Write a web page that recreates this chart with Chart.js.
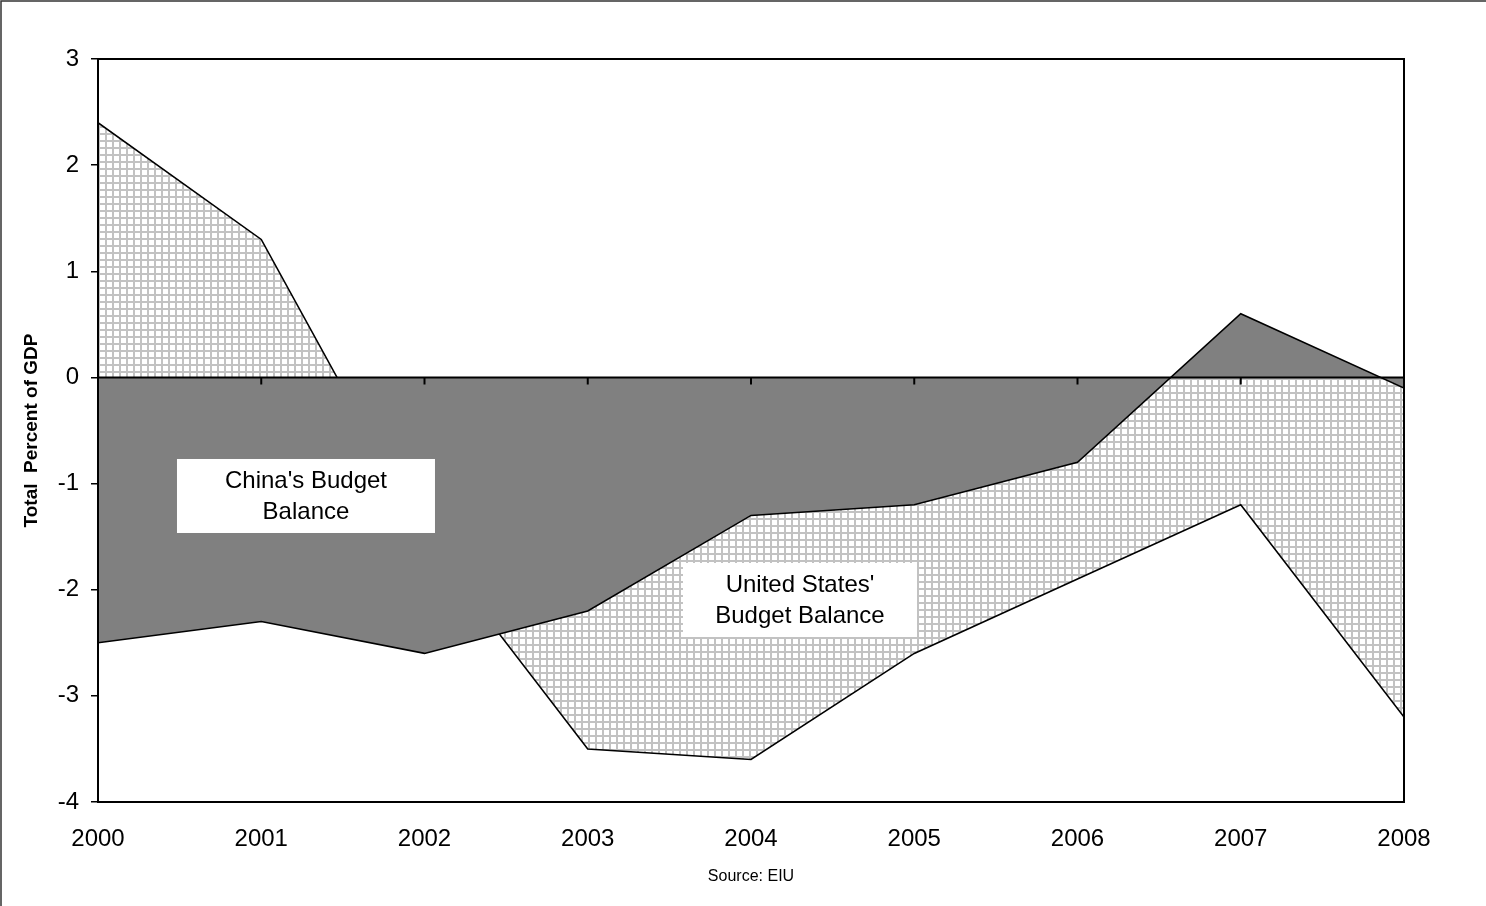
<!DOCTYPE html>
<html>
<head>
<meta charset="utf-8">
<title>Budget Balance</title>
<script src="https://cdn.jsdelivr.net/npm/chart.js@4.4.1/dist/chart.umd.min.js"></script>
<style>
  html, body { margin: 0; padding: 0; background: #fff; }
  canvas { display: block; }
</style>
</head>
<body>
<canvas id="budgetChart" width="1486" height="906"></canvas>
<script>
"use strict";

// Budget balance, total percent of GDP
const years = [2000, 2001, 2002, 2003, 2004, 2005, 2006, 2007, 2008];
const usBalance = [2.4, 1.3, -1.5, -3.5, -3.6, -2.6, -1.9, -1.2, -3.2];
const chinaBalance = [-2.5, -2.3, -2.6, -2.2, -1.3, -1.2, -0.8, 0.6, -0.1];

const yTicks = [-4, -3, -2, -1, 0, 1, 2, 3];
const axisTitle = "Total  Percent of GDP";
const sourceNote = "Source: EIU";

// Text boxes sitting inside each area
const areaLabels = [
    { lines: ["China's Budget", "Balance"], x: 2001.274, y: -1.117, w: 258, h: 74 },
    { lines: ["United States'", "Budget Balance"], x: 2004.30, y: -2.097, w: 234, h: 74 },
];

const FONT = "Arial, 'Liberation Sans', sans-serif";

function toPoints(values) {
    return values.map((v, i) => ({ x: years[i], y: v }));
}

// Light grid hatch used for the US area
function makeHatch() {
    const tile = document.createElement("canvas");
    tile.width = 7;
    tile.height = 7;
    const c = tile.getContext("2d");
    c.fillStyle = "#ffffff";
    c.fillRect(0, 0, 7, 7);
    c.fillStyle = "#c2c2c2";
    c.fillRect(0, 0, 2, 7);
    c.fillRect(0, 0, 7, 2);
    return c.createPattern(tile, "repeat");
}

const ctx = document.getElementById("budgetChart").getContext("2d");
const hatch = makeHatch();

// Zero line with year ticks, drawn over the filled areas
const zeroAxis = {
    id: "zeroAxis",
    afterDatasetsDraw(chart) {
        const { ctx, chartArea, scales } = chart;
        const y0 = scales.y.getPixelForValue(0);
        ctx.save();
        ctx.strokeStyle = "#000";
        ctx.lineWidth = 2;
        ctx.beginPath();
        ctx.moveTo(chartArea.left, y0);
        ctx.lineTo(chartArea.right, y0);
        years.forEach(yr => {
            const x = scales.x.getPixelForValue(yr);
            ctx.moveTo(x, y0);
            ctx.lineTo(x, y0 + 7);
        });
        ctx.stroke();
        ctx.restore();
    }
};

// Frame, area labels and source line
const decorations = {
    id: "decorations",
    afterDraw(chart) {
        const { ctx, chartArea, scales } = chart;
        ctx.save();

        // plot frame
        ctx.strokeStyle = "#000";
        ctx.lineWidth = 2;
        ctx.strokeRect(chartArea.left, chartArea.top,
            chartArea.right - chartArea.left, chartArea.bottom - chartArea.top);

        // outer border (left and top edges)
        ctx.strokeStyle = "#333";
        ctx.lineWidth = 1.5;
        ctx.strokeRect(1, 1, chart.width + 10, chart.height + 10);

        // labels
        ctx.font = "24px " + FONT;
        ctx.textAlign = "center";
        ctx.textBaseline = "middle";
        areaLabels.forEach(lbl => {
            const cx = scales.x.getPixelForValue(lbl.x);
            const cy = scales.y.getPixelForValue(lbl.y);
            ctx.fillStyle = "#fff";
            ctx.fillRect(cx - lbl.w / 2, cy - lbl.h / 2, lbl.w, lbl.h);
            ctx.fillStyle = "#000";
            const lh = 31;
            lbl.lines.forEach((t, i) => {
                ctx.fillText(t, cx, cy + 1 + (i - (lbl.lines.length - 1) / 2) * lh);
            });
        });

        // source
        ctx.font = "16px " + FONT;
        ctx.fillStyle = "#000";
        ctx.fillText(sourceNote, (chartArea.left + chartArea.right) / 2, 877);
        ctx.restore();
    }
};

new Chart(ctx, {
    type: "line",
    data: {
        datasets: [
            {
                label: "China",
                data: toPoints(chinaBalance),
                borderColor: "#000",
                borderWidth: 1.6,
                backgroundColor: "#808080",
                fill: "origin",
                pointRadius: 0,
                tension: 0,
                order: 1,
            },
            {
                label: "United States",
                data: toPoints(usBalance),
                borderColor: "#000",
                borderWidth: 1.6,
                backgroundColor: hatch,
                fill: "origin",
                pointRadius: 0,
                tension: 0,
                order: 2,
            },
        ],
    },
    options: {
        responsive: false,
        animation: false,
        layout: {
            padding: { top: 59, right: 82, bottom: 0, left: 0 },
        },
        scales: {
            x: {
                type: "linear",
                position: "bottom",
                min: years[0],
                max: years[years.length - 1],
                afterFit: scale => { scale.height = 104; },
                afterBuildTicks: scale => {
                    scale.ticks = years.map(v => ({ value: v }));
                },
                ticks: {
                    callback: v => String(v),
                    font: { family: FONT, size: 24 },
                    color: "#000",
                    padding: 23,
                    maxRotation: 0,
                },
                grid: { display: false, drawTicks: false },
                border: { display: false },
            },
            y: {
                position: "left",
                min: yTicks[0],
                max: yTicks[yTicks.length - 1],
                afterFit: scale => { scale.width = 98; },
                afterBuildTicks: scale => {
                    scale.ticks = yTicks.map(v => ({ value: v }));
                },
                ticks: {
                    font: { family: FONT, size: 24 },
                    color: "#000",
                    padding: 12,
                },
                grid: {
                    drawOnChartArea: false,
                    tickLength: 7,
                    color: "#000",
                    lineWidth: 1.5,
                },
                border: { display: true, color: "#000", width: 2 },
                title: {
                    display: true,
                    text: axisTitle,
                    font: { family: FONT, size: 19, weight: "bold" },
                    color: "#000",
                    padding: { top: 20, bottom: 0 },
                },
            },
        },
        plugins: {
            legend: { display: false },
            tooltip: { enabled: false },
        },
    },
    plugins: [zeroAxis, decorations],
});
</script>
</body>
</html>
